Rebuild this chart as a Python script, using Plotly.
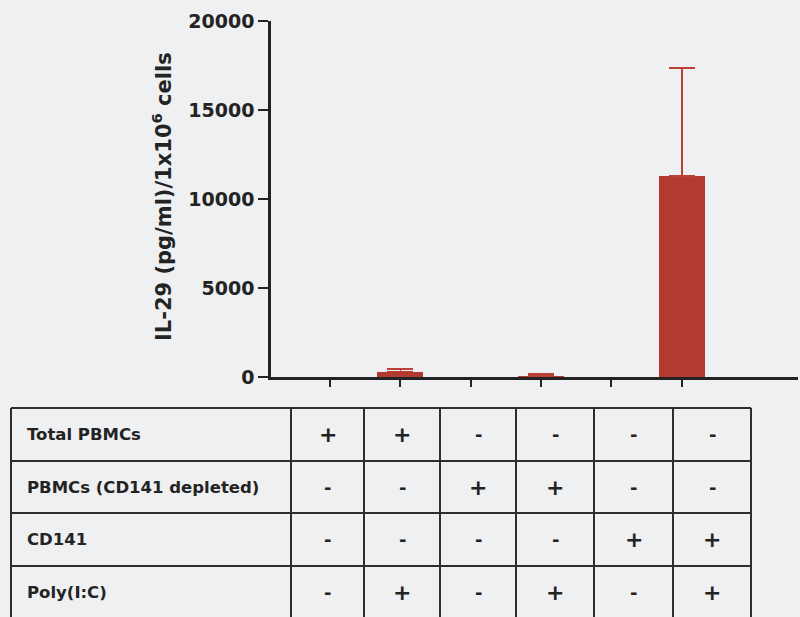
import plotly.graph_objects as go

# ---- data ----
groups = [1, 2, 3, 4, 5, 6]
values = [0, 300, 0, 50, 0, 11300]
errors = [0, 160, 0, 110, 0, 6050]
y_ticks = [0, 5000, 10000, 15000, 20000]
y_title = "IL-29 (pg/ml)/1x10<sup>6</sup> cells"
row_labels = ["Total PBMCs", "PBMCs (CD141 depleted)", "CD141", "Poly(I:C)"]
row_signs = [
    ["+", "+", "-", "-", "-", "-"],
    ["-", "-", "+", "+", "-", "-"],
    ["-", "-", "-", "-", "+", "+"],
    ["-", "+", "-", "+", "-", "+"],
]

# ---- layout geometry (pixels) ----
W, H = 800, 617
L, R, T, B = 271, 2, 21, 240
pw, ph = W - L - R, H - T - B
FONT = "DejaVu Sans"
BG = "#eff0f2"
INK = "#232323"
BAR = "#b23a30"

def px(x):
    return (x - L) / pw

def py(y):
    return (H - B - y) / ph

# zero-valued groups have no visible bar or error bar
y_draw = [v if v > 0 else None for v in values]
err_plus = [e if v > 0 else None for v, e in zip(values, errors)]
err_minus = [0 if v > 0 else None for v in values]

fig = go.Figure()
fig.add_trace(go.Bar(
    x=groups, y=y_draw, width=0.654,
    marker=dict(color=BAR, line=dict(width=0)),
    error_y=dict(type="data", array=err_plus, symmetric=False, arrayminus=err_minus,
                 color="#bb4136", thickness=1.6, width=13),
    showlegend=False,
))

# table geometry
col_x = [11, 291, 364, 440, 516, 594, 673, 751]
row_y = [408, 461, 513, 566, 619]
shapes = []
for x in col_x:
    shapes.append(dict(type="line", xref="paper", yref="paper",
                       x0=px(x), x1=px(x), y0=py(row_y[0]), y1=py(row_y[-1]),
                       line=dict(color="#2e2e2e", width=2)))
for y in row_y:
    shapes.append(dict(type="line", xref="paper", yref="paper",
                       x0=px(col_x[0]), x1=px(col_x[-1]), y0=py(y), y1=py(y),
                       line=dict(color="#2e2e2e", width=2)))

annotations = []
for i, lab in enumerate(row_labels):
    yc = (row_y[i] + row_y[i + 1]) / 2
    annotations.append(dict(xref="paper", yref="paper", x=px(25), y=py(yc),
                            text=f"<b>{lab}</b>", showarrow=False,
                            xanchor="left", yanchor="middle",
                            font=dict(family=FONT, size=16.5, color=INK)))
    for j, s in enumerate(row_signs[i]):
        xc = (col_x[j + 1] + col_x[j + 2]) / 2
        annotations.append(dict(xref="paper", yref="paper", x=px(xc), y=py(yc),
                                text=f"<b>{s}</b>", showarrow=False,
                                xanchor="center", yanchor="middle",
                                font=dict(family=FONT, size=22 if s == "+" else 18, color=INK)))

annotations.append(dict(xref="paper", yref="paper", x=px(162), y=py(197),
                        text=f"<b>{y_title}</b>", textangle=-90, showarrow=False,
                        xanchor="center", yanchor="middle",
                        font=dict(family=FONT, size=21, color=INK)))

fig.update_layout(
    width=W, height=H,
    margin=dict(l=L, r=R, t=T, b=B, pad=0),
    paper_bgcolor=BG, plot_bgcolor=BG,
    shapes=shapes, annotations=annotations,
    bargap=0,
    xaxis=dict(range=[0.161, 7.653], tickvals=groups, ticktext=[""] * 6,
               showgrid=False, zeroline=False, showline=True, linecolor=INK, linewidth=2.5,
               ticks="outside", ticklen=7, tickwidth=2, tickcolor=INK, fixedrange=True),
    yaxis=dict(range=[0, 20000], tickvals=y_ticks,
               ticktext=[f"<b>{v}</b>" for v in y_ticks],
               showgrid=False, zeroline=False, showline=True, linecolor=INK, linewidth=2.5,
               ticks="outside", ticklen=10, tickwidth=2, tickcolor=INK,
               ticklabelstandoff=0,
               tickfont=dict(family=FONT, size=19, color=INK), fixedrange=True),
)

fig.write_html(
    "out.html",
    config={"displayModeBar": False},
    post_script="document.body.style.margin='0';document.body.style.padding='0';"
                "document.body.style.overflow='hidden';",
)
